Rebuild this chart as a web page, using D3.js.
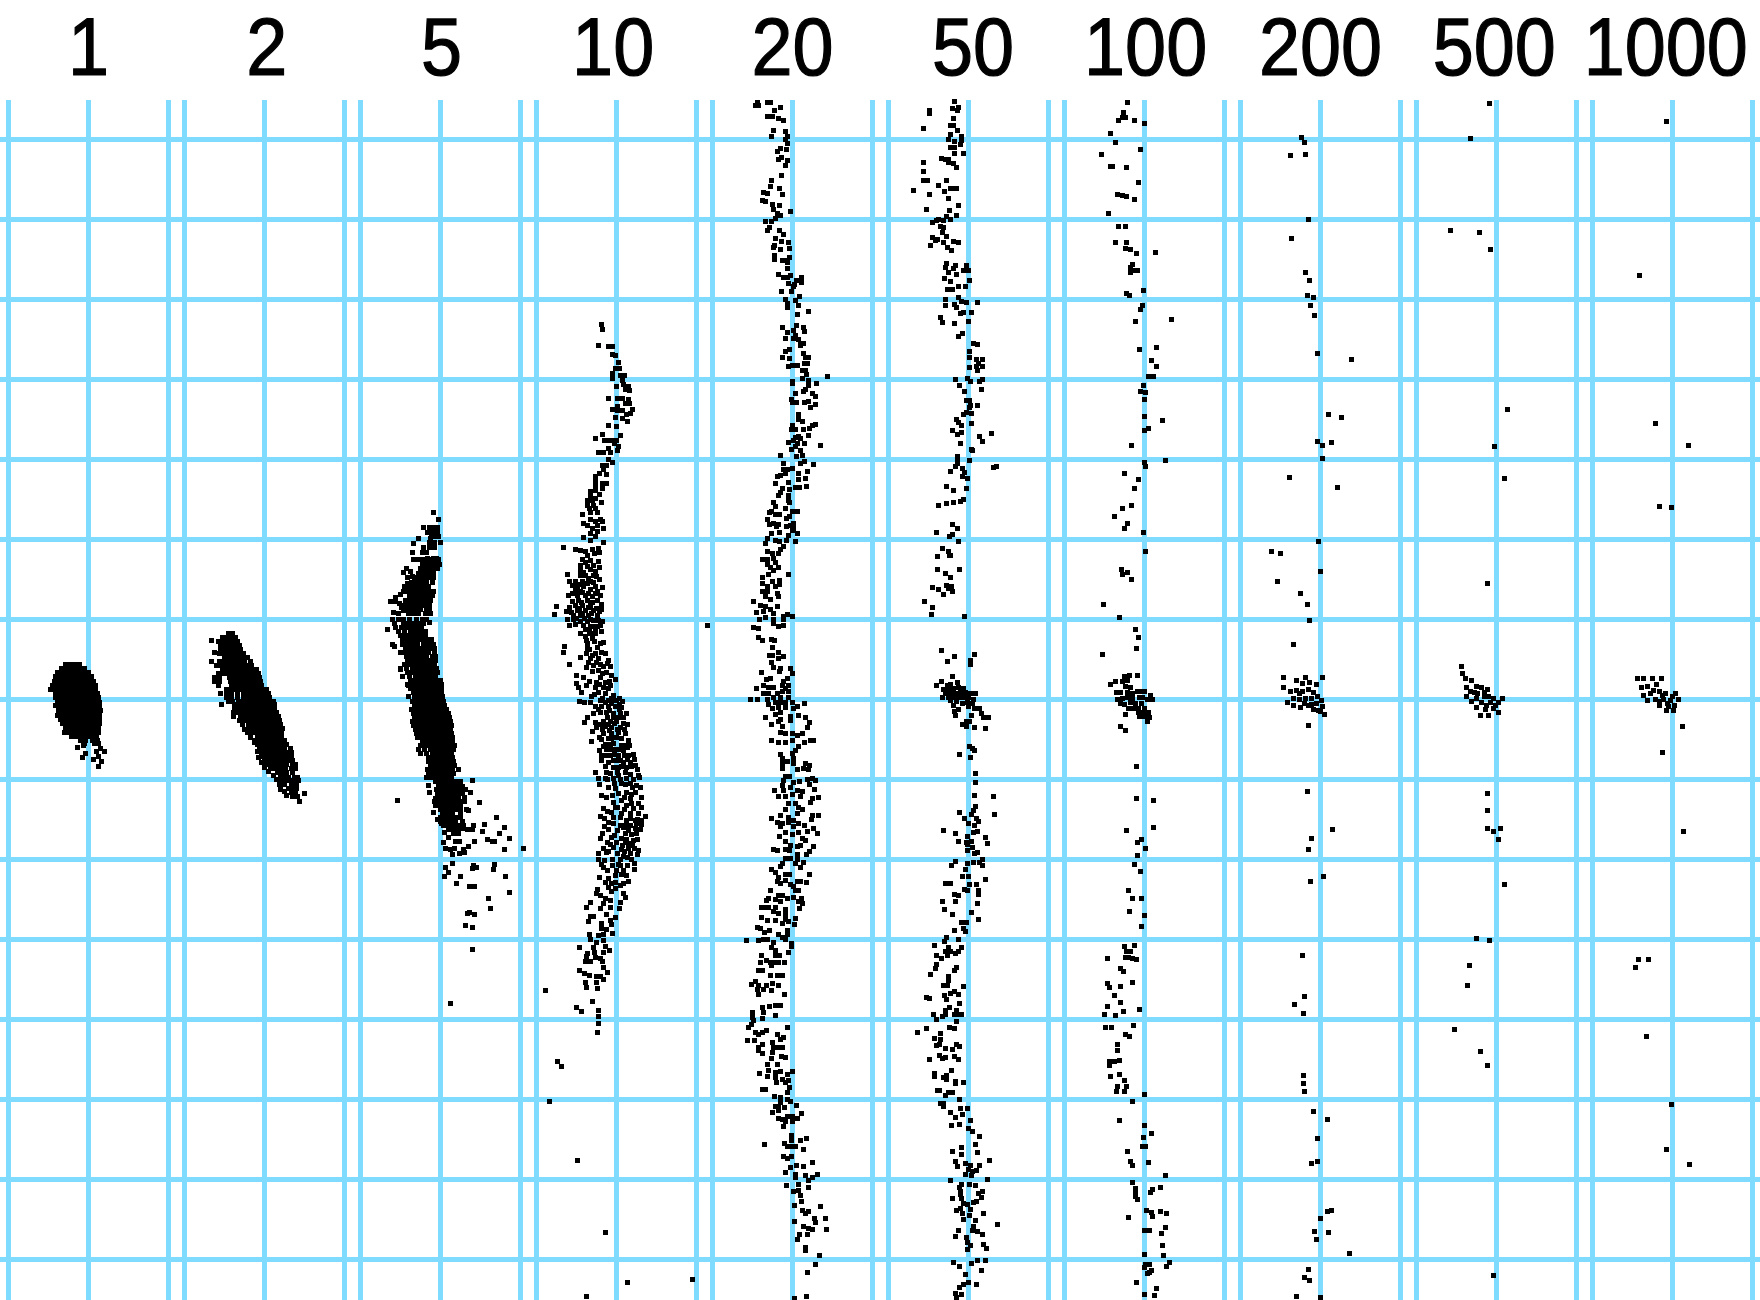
<!DOCTYPE html>
<html><head><meta charset="utf-8">
<script src="https://cdn.jsdelivr.net/npm/d3@7"></script>
<style>html,body{margin:0;padding:0;background:#fff}svg{display:block}</style>
</head><body><div id="chart"></div>
<script>
const panelLabels=["1","2","5","10","20","50","100","200","500","1000"];
const labelNudge=[0,2,1,-3,0,4,1,0,-2,-6];
const rowTicks=[-560,-480,-400,-320,-240,-160,-80,0,80,160,240,320,400,480,560];
const columnTicks=[-80,0,80];
// each list: x, y, x, y ... (one grid cell = 80 units; y grows downward from the middle row)
const dots1=[-23,-35,-19,-35,-14,-35,-9,-35,-27,-31,-23,-31,-18,-31,-13,-31,-9,-31,-4,-31,-31,-27,-27,-27,-22,-27,-18,-27,-13,-27,-9,-27,-4,-27,0,-27,-33,-23,-28,-23,-24,-23,-19,-23,-15,-23,-10,-23,-6,-23,-1,-23,3,-23,-34,-18,-30,-18,-25,-18,-21,-18,-16,-18,-12,-18,-7,-18,-3,-18,2,-18,5,-18,-36,-14,-32,-14,-27,-14,-23,-14,-18,-14,-14,-14,-9,-14,-5,-14,0,-14,4,-14,7,-14,-38,-10,-33,-10,-29,-10,-24,-10,-20,-10,-15,-10,-11,-10,-6,-10,-2,-10,3,-10,7,-10,-33,-6,-29,-6,-25,-6,-20,-6,-16,-6,-11,-6,-7,-6,-2,-6,2,-6,6,-6,9,-6,-33,-2,-28,-2,-24,-2,-19,-2,-15,-2,-10,-2,-6,-2,-1,-2,3,-2,7,-2,10,-2,-31,3,-27,3,-22,3,-18,3,-13,3,-9,3,-4,3,0,3,5,3,9,3,11,3,-33,6,-28,7,-24,7,-19,7,-15,7,-10,7,-6,7,-1,7,3,7,8,7,11,7,-30,11,-26,11,-21,11,-17,11,-12,11,-8,11,-3,11,1,11,6,11,10,11,12,11,-31,16,-26,16,-21,16,-17,16,-12,16,-8,16,-3,16,2,16,6,16,10,16,11,16,-28,20,-23,20,-19,20,-14,20,-10,20,-5,20,-1,20,4,20,8,20,11,20,-26,24,-22,24,-17,24,-13,24,-8,24,-4,24,1,24,5,24,9,24,11,24,-23,28,-19,28,-14,28,-10,28,-5,28,-1,28,4,28,8,28,10,28,-24,33,-19,33,-15,33,-10,33,-5,33,0,33,5,33,9,33,10,33,-17,37,-12,37,-7,37,-2,37,3,37,8,37,-8,41,-3,41,4,41,9,41,-5,46,-4,44,6,44,10,44,12,49,-11,48,-3,54,-6,58,5,60,10,57,10,67,16,52,13,62,8,52];
const dots2=[-36,-66,-32,-66,-53,-59,-42,-62,-38,-62,-33,-62,-29,-62,-46,-58,-41,-58,-37,-58,-32,-58,-27,-58,-44,-54,-40,-54,-35,-54,-30,-54,-25,-54,-44,-50,-39,-50,-34,-50,-29,-50,-24,-50,-50,-47,-45,-46,-40,-46,-35,-46,-30,-46,-25,-46,-21,-46,-40,-42,-36,-42,-31,-42,-26,-42,-21,-42,-17,-42,-53,-38,-45,-38,-40,-38,-35,-38,-30,-38,-25,-38,-20,-38,-14,-38,-48,-34,-43,-34,-38,-34,-33,-34,-28,-34,-23,-34,-18,-34,-13,-34,-42,-30,-37,-30,-32,-30,-27,-30,-22,-30,-17,-30,-12,-30,-8,-30,-46,-26,-41,-26,-36,-26,-31,-26,-26,-26,-21,-26,-16,-26,-11,-26,-6,-26,-50,-22,-45,-22,-35,-22,-30,-22,-25,-22,-20,-22,-15,-22,-10,-22,-5,-22,-50,-18,-45,-18,-34,-18,-29,-18,-24,-18,-19,-18,-14,-18,-9,-18,-4,-18,-46,-14,-33,-14,-28,-14,-23,-14,-18,-14,-13,-14,-8,-14,-3,-14,-38,-10,-33,-10,-28,-10,-23,-10,-18,-10,-13,-10,-8,-10,-3,-10,2,-10,-44,-6,-38,-6,-33,-6,-27,-6,-21,-6,-16,-6,-11,-6,-6,-6,-1,-6,4,-6,-38,-2,-33,-2,-27,-2,-21,-2,-16,-2,-11,-2,-6,-2,-1,-2,4,-2,5,-2,-36,2,-32,2,-26,2,-21,2,-16,2,-11,2,-6,2,-1,2,4,2,9,2,-43,5,-30,5,-25,5,-20,5,-15,5,-10,5,-5,5,0,5,5,5,10,5,-30,9,-25,9,-20,9,-15,9,-10,9,-5,9,0,9,5,9,10,9,-31,13,-28,13,-23,13,-18,13,-13,13,-8,13,-3,13,2,13,7,13,12,13,-31,17,-24,17,-19,17,-14,17,-9,17,-4,17,1,17,6,17,11,17,14,17,-25,21,-20,21,-17,21,-12,21,-7,21,-2,21,3,21,8,21,13,21,15,21,-22,25,-12,25,-7,25,-2,25,3,25,8,25,13,25,16,25,-15,29,-10,29,-5,29,0,29,5,29,10,29,15,29,18,29,-17,33,-12,33,-7,33,-2,33,3,33,8,33,13,33,17,33,-7,37,-2,37,3,37,8,37,13,37,17,37,-9,41,-4,41,1,41,6,41,11,41,16,41,20,41,-7,45,-2,45,3,45,8,45,13,45,18,45,22,45,-5,49,0,49,5,49,10,49,15,49,20,49,26,49,-3,53,2,53,7,53,12,53,17,53,22,53,27,53,-3,57,2,57,7,57,12,57,17,57,22,57,27,57,0,61,5,61,10,61,15,61,20,61,25,61,28,61,2,65,7,65,12,65,17,65,22,65,28,65,31,65,6,69,11,69,16,69,21,69,27,69,31,69,13,73,18,73,22,73,28,73,16,78,20,78,24,78,30,78,33,78,17,81,22,81,27,81,32,81,34,81,20,85,27,85,32,85,24,89,29,89,32,89,27,93,31,93,40,94,28,97,33,97,35,102,-16,26,-20,30,-14,38,-10,43,-7,52,-6,58,-3,63,0,68,4,72,9,76,12,80,15,85,16,90,20,92,22,96];
const dots3=[-7,-187,-2,-180,-17,-172,-11,-172,-6,-172,-3,-172,-13,-167,-8,-167,-3,-167,-9,-163,-5,-163,-2,-163,-22,-161,-10,-161,-27,-156,-11,-157,-6,-157,0,-157,-17,-152,-11,-152,-6,-152,-28,-147,-18,-147,-14,-147,-13,-141,-7,-141,-4,-141,-27,-140,-22,-140,-17,-140,-12,-140,-7,-140,-2,-140,-18,-135,-13,-135,-8,-135,-3,-135,-1,-135,-34,-131,-20,-131,-15,-131,-10,-131,-5,-131,-3,-131,-37,-127,-22,-126,-17,-126,-12,-126,-7,-126,-33,-122,-26,-122,-21,-122,-16,-122,-11,-122,-7,-122,-29,-117,-24,-117,-19,-117,-14,-117,-8,-117,-36,-113,-27,-113,-22,-113,-17,-113,-12,-113,-37,-108,-32,-108,-27,-108,-22,-108,-17,-108,-12,-108,-7,-108,-31,-104,-26,-104,-21,-104,-16,-104,-11,-104,-8,-104,-45,-102,-35,-99,-30,-99,-25,-99,-20,-99,-15,-99,-10,-99,-50,-98,-45,-98,-36,-94,-31,-94,-26,-94,-21,-94,-16,-94,-11,-94,-35,-90,-30,-90,-25,-90,-20,-90,-14,-90,-11,-90,-32,-86,-27,-86,-22,-86,-15,-86,-10,-86,-47,-87,-42,-86,-37,-89,-48,-80,-42,-80,-37,-80,-31,-80,-24,-80,-18,-80,-14,-80,-46,-76,-37,-76,-32,-76,-27,-76,-22,-76,-17,-76,-11,-77,-45,-72,-39,-72,-34,-72,-29,-72,-24,-72,-19,-72,-53,-70,-42,-68,-36,-68,-30,-68,-25,-68,-20,-68,-15,-68,-40,-64,-35,-64,-30,-64,-25,-64,-20,-64,-15,-64,-38,-60,-33,-60,-28,-60,-23,-60,-18,-60,-13,-60,-9,-60,-38,-55,-33,-55,-28,-55,-23,-55,-17,-55,-12,-55,-7,-55,-48,-55,-46,-53,-35,-51,-30,-51,-25,-51,-20,-51,-15,-51,-10,-51,-6,-51,-37,-47,-32,-47,-27,-47,-22,-47,-17,-47,-12,-47,-6,-47,-34,-43,-29,-43,-24,-43,-19,-43,-14,-43,-8,-43,-5,-43,-40,-47,-33,-39,-28,-39,-23,-39,-18,-39,-13,-39,-8,-39,-5,-39,-36,-35,-31,-35,-26,-35,-21,-35,-16,-35,-11,-35,-6,-35,-40,-31,-34,-31,-28,-31,-23,-31,-18,-31,-13,-31,-8,-31,-4,-31,-33,-27,-28,-27,-23,-27,-18,-27,-13,-27,-8,-27,-3,-27,-40,-30,-31,-23,-25,-23,-20,-23,-15,-23,-10,-23,-5,-23,-30,-19,-25,-19,-20,-19,-15,-19,-10,-19,-5,-19,0,-19,-38,-23,-33,-15,-27,-15,-22,-15,-17,-15,-12,-15,-7,-15,-2,-15,1,-15,-30,-11,-25,-11,-20,-11,-15,-11,-10,-11,-5,-11,0,-11,1,-11,-32,-14,-27,-7,-22,-7,-17,-7,-12,-7,-7,-7,-2,-7,1,-7,-32,-3,-26,-3,-21,-3,-16,-3,-11,-3,-6,-3,-1,-3,2,-3,-28,2,-23,2,-18,2,-13,2,-8,2,-3,2,2,2,3,2,-26,6,-21,6,-16,6,-11,6,-6,6,-1,6,4,6,-29,10,-24,10,-19,10,-14,10,-9,10,-4,10,1,10,6,10,-27,14,-22,14,-17,14,-12,14,-7,14,-2,14,3,14,8,14,-26,18,-21,18,-16,18,-11,18,-6,18,-1,18,4,18,9,18,-28,22,-24,22,-19,22,-14,22,-9,22,-4,22,1,22,6,22,10,22,-27,26,-22,26,-17,26,-12,26,-7,26,-2,26,3,26,8,26,11,26,-25,30,-20,30,-15,30,-10,30,-5,30,0,30,5,30,10,30,-24,34,-19,34,-14,34,-9,34,-4,34,1,34,6,34,11,34,-23,38,-18,38,-13,38,-8,38,-3,38,2,38,7,38,12,38,-18,42,-13,42,-8,42,-3,42,2,42,7,42,12,42,-20,46,-15,46,-10,46,-5,46,0,46,5,46,10,46,14,46,-22,50,-16,50,-10,50,-5,50,0,50,5,50,10,50,13,50,-20,54,-14,54,-8,54,-3,54,2,54,7,54,11,54,-12,58,-7,58,-2,58,3,58,8,58,12,58,-12,62,-7,62,-2,62,3,62,8,62,13,62,-10,66,-5,66,0,66,5,66,10,66,14,66,-13,70,-8,70,-3,70,2,70,7,70,12,70,18,70,-12,74,-7,74,-2,74,3,74,8,74,13,74,-14,78,-9,78,-4,78,1,78,6,78,11,78,0,82,-5,82,5,82,10,82,15,82,20,82,32,81,-12,86,-2,86,3,86,8,86,13,86,18,86,22,87,-4,90,1,90,6,90,11,90,16,90,21,90,25,90,-11,93,-3,94,2,94,7,94,12,94,17,94,22,94,30,93,-2,98,3,98,8,98,13,98,18,98,24,98,-6,102,-1,102,4,102,9,102,14,102,19,102,24,102,-5,99,-5,106,0,106,5,106,10,106,15,106,20,106,39,103,0,110,5,110,10,110,15,110,20,110,26,110,2,114,7,114,12,114,20,114,-7,113,0,118,5,118,10,118,15,118,20,118,28,111,0,122,5,122,10,122,15,122,22,122,-3,120,1,124,56,118,3,126,8,126,13,126,18,126,23,126,33,126,44,125,64,128,8,130,13,130,18,130,23,129,27,130,32,130,42,132,59,134,4,133,18,134,13,134,69,139,47,140,54,142,52,142,8,138,3,143,15,142,19,142,34,142,28,147,83,149,64,150,5,149,10,150,14,149,23,150,24,153,19,154,12,155,12,164,5,168,8,173,4,177,33,166,32,169,36,168,54,165,53,170,65,177,20,177,16,184,29,187,34,187,69,193,48,199,50,209,27,214,29,213,34,215,25,226,32,228,32,250,105,291,10,304,-43,101,-30,-128,-28,-123,-33,-116,-35,-109,-32,-113,-40,-105,-41,-96,-39,-92];
const dots4=[-15,-375,-14,-370,-18,-354,-8,-353,-4,-353,-4,-345,-1,-344,2,-337,-1,-331,3,-331,-4,-326,-4,-321,4,-324,8,-324,6,-319,0,-313,7,-315,12,-313,9,-310,13,-309,-8,-301,1,-301,6,-301,12,-300,9,-296,13,-296,1,-293,-4,-290,6,-289,1,-289,16,-290,14,-286,10,-285,6,-281,-1,-282,11,-278,-8,-274,0,-273,-21,-261,-14,-265,4,-264,-12,-259,-8,-259,-4,-259,0,-259,-2,-256,-8,-251,2,-253,1,-249,-18,-247,-13,-247,-6,-247,-8,-240,-4,-237,-14,-234,-10,-234,-13,-230,-17,-226,-10,-225,-21,-223,-21,-218,-10,-216,-14,-216,-21,-213,-14,-211,-26,-208,-21,-209,-26,-204,-17,-205,-21,-201,-29,-199,-24,-199,-15,-197,-29,-194,-23,-194,-27,-191,-21,-191,-34,-185,-26,-187,-19,-187,-26,-180,-16,-180,-21,-178,-33,-176,-29,-174,-19,-174,-14,-178,-24,-171,-13,-171,-19,-168,-26,-166,-33,-162,-21,-163,-26,-159,-13,-157,-53,-152,-41,-150,-36,-149,-31,-148,-24,-150,-18,-151,-29,-144,-22,-146,-17,-147,-34,-140,-18,-138,-36,-134,-29,-133,-23,-134,-17,-132,-36,-129,-26,-130,-49,-125,-36,-124,-31,-124,-23,-124,-17,-120,-47,-118,-41,-118,-34,-118,-26,-118,-39,-113,-33,-113,-21,-113,-14,-112,-41,-109,-26,-110,-36,-108,-19,-108,-48,-104,-39,-104,-31,-104,-24,-103,-38,-99,-29,-99,-19,-99,-41,-94,-34,-94,-26,-94,-15,-90,-60,-93,-47,-92,-50,-88,-62,-85,-39,-89,-31,-89,-23,-89,-43,-84,-36,-84,-28,-84,-19,-84,-49,-80,-43,-80,-36,-78,-29,-78,-23,-79,-14,-78,-47,-74,-26,-73,-19,-73,-31,-70,-15,-68,-26,-66,-21,-66,-31,-63,-24,-61,-16,-56,-29,-56,-52,-53,-13,-57,-29,-51,-19,-52,-53,-47,-47,-35,-36,-42,-30,-46,-21,-46,-11,-46,-26,-41,-18,-41,-8,-39,-30,-32,-23,-34,-13,-33,-6,-33,-18,-29,-10,-27,-40,-24,-33,-22,-16,-22,-1,-20,-40,-16,-20,-17,-11,-17,-7,-18,-30,-14,-38,-12,-21,-12,-13,-12,-8,-11,-35,-7,-18,-7,-11,-6,-25,-3,-3,-4,-37,2,-32,3,-26,3,-16,1,-8,1,0,1,6,2,-21,7,-15,7,-8,7,-1,7,5,8,-23,14,-16,13,-10,13,-3,14,4,14,10,14,-29,18,7,18,-32,23,-21,23,-13,22,-6,22,0,22,11,25,-20,28,-11,27,-5,28,4,28,-24,32,-13,34,-5,34,2,33,9,34,-17,38,-8,39,0,38,12,41,-25,42,-11,45,-3,44,5,46,13,46,-17,51,-10,50,-1,50,7,51,-15,56,-6,56,2,56,12,56,-15,61,-8,63,0,61,7,63,14,63,-11,67,-3,68,5,67,19,66,-21,73,-10,73,9,73,21,70,22,76,-18,79,-11,79,2,76,-3,79,10,79,-17,85,-8,88,5,84,14,84,24,88,-1,89,20,86,-15,96,-10,98,2,94,10,93,19,93,25,98,-3,103,5,101,14,99,22,104,-13,109,1,108,10,106,25,108,17,109,-5,113,5,114,14,114,22,114,-16,117,-12,119,-3,118,29,117,10,121,19,121,25,121,-3,124,4,126,14,126,25,125,-8,130,7,128,19,129,-14,134,-16,139,9,134,15,135,20,134,-5,138,5,139,21,140,-6,145,0,143,9,143,16,146,-13,149,-3,148,5,150,12,149,22,151,-18,154,-10,153,7,157,14,154,21,155,-18,160,-12,161,15,160,-15,165,-13,168,-4,166,4,166,11,166,18,164,0,171,7,171,18,170,-1,176,5,175,-17,178,-8,179,12,182,-11,183,7,184,-5,184,-8,188,-1,189,-19,190,-20,194,-16,196,-5,192,7,194,9,198,-11,199,-6,201,4,203,-26,203,-30,208,-13,204,-6,208,-16,209,3,209,-26,217,-23,217,-28,222,-10,215,-1,218,-6,221,-15,224,-5,225,-15,229,-10,230,-27,235,-13,235,-4,234,-18,236,-26,240,-13,241,-20,243,-37,248,-23,248,-11,247,-7,251,-22,253,-29,254,-30,257,-13,253,-21,258,-16,259,-31,262,-26,262,-14,262,-13,268,-37,271,-32,274,-27,276,-9,273,-20,277,-16,277,-13,280,-31,283,-30,288,-20,283,-19,289,-71,291,-24,302,-40,308,-35,312,-18,311,-18,317,-18,324,-19,333,91,-74,-59,362,-55,367,-67,402,-39,461,-11,533,11,583,-30,597,76,580,-31,-137,-26,-139,-21,-128,-33,-127,-28,-121,-20,-123,-44,-114,-36,-115,-29,-116,-23,-117,-44,-106,-34,-107,-28,-106,-21,-106,-16,-104,-44,-98,-35,-97,-24,-97,-15,-95,-37,-91,-28,-92,-20,-91,-45,-87,-34,-86,-25,-86,-17,-88,-40,-81,-32,-81,-26,-80,-18,-79,-41,-75,-33,-74,-23,-73,-16,-74,-27,-68,-21,-71,-36,-66,-30,-59,-22,-58,-27,-50,-24,-44,-15,-47,-20,-37,-28,-37,-16,-35,-9,-36,-24,-28,-14,-26,-5,-24,-27,-18,-17,-15,-6,-14,-22,-5,-14,-1,-5,-1,3,-1,-11,3,-5,4,3,5,-18,10,-7,11,3,10,-9,18,-3,18,2,18,-16,25,-8,25,-2,24,7,24,-14,30,-7,31,1,30,8,30,-15,40,-5,39,5,39,-13,47,-6,45,9,46,-6,50,3,50,11,48,-11,56,-2,55,8,56,17,55,-3,61,4,61,11,60,18,60,2,68,10,68,15,67,-6,74,1,73,14,75,-9,80,4,80,17,80,23,78,9,85,-2,84,16,88,-4,96,8,98,15,95,-1,108,8,110,15,104,-9,112,4,118,14,119,21,120,-8,123,9,126,20,124,-12,127,1,131,12,131,24,130,-2,136,10,140,17,141,-9,143,6,146,12,144,-8,152,1,154,8,152,18,149,-4,160,4,160,11,158,-9,171,2,165,-1,183,4,186,10,176];
const dots5=[-35,-597,-34,-594,-37,-594,-25,-597,-22,-597,-18,-589,-12,-592,-25,-583,-20,-583,-14,-581,-9,-579,-19,-569,-7,-568,-21,-563,-5,-563,-7,-560,-5,-556,-15,-548,-12,-551,-6,-550,-14,-540,-11,-542,-5,-539,-7,-534,-11,-524,-21,-519,-22,-513,-13,-511,-29,-507,-25,-506,-10,-505,-30,-499,-27,-498,-20,-495,-13,-494,-19,-490,-2,-488,-15,-486,-12,-484,-17,-481,-27,-478,-21,-478,-23,-472,-25,-469,-13,-469,-9,-465,-17,-461,-11,-458,-4,-457,-18,-454,-3,-451,-19,-452,-12,-450,-18,-444,-18,-440,-10,-439,-6,-439,-3,-442,-5,-437,-5,-431,-14,-425,-9,-422,-5,-422,-2,-424,4,-419,9,-422,9,-417,-4,-416,2,-415,1,-413,-11,-408,-1,-408,7,-403,-7,-400,3,-399,-5,-396,6,-394,-5,-392,16,-388,5,-385,-10,-372,4,-374,11,-372,12,-368,1,-369,-5,-367,3,-364,-7,-361,1,-361,6,-360,8,-356,11,-356,8,-354,-3,-350,-7,-348,11,-346,13,-342,16,-342,-10,-342,-3,-341,12,-336,15,-336,-4,-333,0,-334,5,-334,10,-329,13,-329,14,-325,10,-321,35,-323,0,-318,0,-316,16,-319,24,-316,16,-314,13,-310,11,-308,3,-306,20,-306,23,-303,-1,-300,16,-298,12,-297,0,-297,4,-297,23,-295,18,-292,6,-285,6,-280,10,-278,0,-274,23,-275,20,-274,17,-271,-1,-270,3,-270,11,-270,16,-264,6,-263,3,-262,8,-261,1,-259,-4,-257,12,-256,5,-256,28,-254,3,-253,-1,-250,8,-249,10,-244,-12,-244,4,-243,12,-238,8,-236,-9,-236,21,-235,-9,-230,-5,-230,0,-231,6,-226,15,-228,-7,-226,-12,-224,-15,-223,13,-221,6,-220,-17,-216,-4,-217,-10,-211,3,-212,7,-212,14,-213,-12,-207,-3,-210,-14,-204,-4,-204,-4,-199,-19,-197,-3,-197,-17,-193,-7,-191,-21,-188,0,-188,5,-188,-23,-187,-17,-185,-13,-185,-3,-183,-6,-181,-25,-180,1,-176,-19,-176,-14,-175,-23,-175,-16,-173,-2,-174,-6,-173,1,-171,-21,-166,-13,-167,0,-169,5,-166,-4,-164,-25,-161,-17,-159,-13,-158,-6,-159,-27,-156,3,-158,-9,-153,-12,-150,-14,-146,-25,-148,-20,-146,-30,-140,-25,-140,-19,-141,-25,-135,-17,-137,-14,-132,-22,-132,-19,-129,-24,-125,-4,-125,-30,-122,-13,-119,-20,-118,-30,-116,-25,-113,-17,-113,-13,-115,-30,-108,-25,-108,-15,-106,-27,-103,-14,-103,-22,-100,-39,-98,-32,-94,-27,-93,-15,-93,-22,-90,-36,-87,-29,-88,-19,-86,-5,-85,-9,-83,0,-83,-33,-80,-27,-82,-9,-80,-19,-80,-19,-76,-14,-73,-9,-74,-39,-72,-34,-71,-34,-62,-30,-59,-21,-60,-18,-59,-20,-52,-14,-47,-23,-44,-20,-44,-9,-43,-14,-41,-21,-37,-19,-32,-12,-31,-2,-31,-13,-28,-31,-27,0,-26,-22,-21,-26,-20,-5,-21,-9,-18,-29,-14,-24,-12,-19,-12,-10,-14,-4,-14,-36,-11,-7,-11,-29,-6,-24,-6,-15,-6,-10,-8,-4,-8,-19,-2,-12,-2,-4,-2,-42,0,-35,0,-25,0,-24,5,-17,3,-12,3,-7,3,0,3,12,4,-20,9,-14,8,-7,8,1,9,5,7,-27,18,-17,15,-12,13,-2,17,6,16,13,18,-12,20,-14,22,-2,21,-21,25,17,23,15,28,-10,27,-12,33,-7,34,0,34,5,36,10,34,-21,41,-14,43,-7,43,0,41,12,43,18,41,21,41,6,47,3,51,0,54,-12,55,-10,59,-5,62,1,59,-10,64,1,64,-10,69,5,70,11,69,13,64,17,66,16,70,-7,77,-3,77,15,80,20,79,23,81,-9,81,1,83,7,82,17,85,-10,86,-2,88,-18,91,-9,91,5,91,10,92,22,90,-14,97,-7,97,0,95,8,97,20,99,26,98,18,103,-4,104,3,104,-7,110,6,108,10,110,5,114,-12,116,26,116,20,116,-21,119,-4,118,19,120,1,121,-15,123,-10,124,-4,123,6,124,12,126,-12,127,1,127,21,129,-7,133,0,135,6,133,15,132,25,134,-13,137,10,139,-7,142,13,141,-2,146,5,147,21,147,-19,150,-15,151,-7,150,8,146,-3,151,17,152,14,155,5,155,-7,159,-2,159,5,160,11,163,-10,164,3,164,-12,167,8,168,-21,170,-17,173,-7,175,-3,175,17,175,-14,178,-15,182,-7,181,-12,184,5,182,8,182,14,183,-2,185,1,187,6,191,3,191,-22,191,-14,196,-10,196,1,198,-24,199,-5,199,9,199,-17,200,-26,201,-12,202,6,202,10,204,-29,208,-24,208,-17,208,-7,210,7,209,-31,208,-19,212,-14,214,-7,215,-31,218,-25,221,-17,221,-7,220,3,219,-4,222,-10,224,2,225,-35,228,-32,229,-23,231,-28,233,-14,235,-5,231,-5,235,-10,238,-7,240,-46,241,-34,241,-29,240,-25,240,-19,243,-1,244,-21,248,-17,251,-1,247,-4,253,-31,256,-17,256,-13,256,-32,263,-26,261,-22,263,-17,263,-14,263,-8,263,-21,266,-34,271,-30,271,-22,276,-15,276,-10,276,-37,282,-41,285,-34,286,-26,286,-20,284,-14,286,-35,290,-29,290,-21,291,-34,295,-8,295,-30,308,-23,307,-17,306,-12,306,-40,313,-29,313,-17,316,-40,318,-30,319,-39,321,-41,325,-44,328,-5,328,-26,331,-30,333,-37,333,-34,335,-15,335,-9,338,-12,340,-45,341,-38,341,-20,343,-30,345,-34,348,-15,348,-10,348,-19,348,-34,351,-30,354,-20,353,-11,357,-7,358,-21,359,-25,365,-15,365,-24,371,-12,372,-17,373,0,372,-33,374,-5,375,-25,377,-17,378,-10,380,-4,381,-16,383,-7,383,-3,388,-30,390,-27,390,-5,393,-18,397,-12,398,-5,400,-12,403,-2,402,-17,407,-14,407,-8,408,4,406,-20,413,-14,411,9,414,-5,417,0,417,-14,419,-10,420,5,419,-7,422,0,422,-9,427,-1,436,-1,441,14,439,8,441,-28,445,-8,444,-5,447,3,447,11,450,-2,447,-9,457,-5,459,-1,457,20,463,4,466,11,467,-2,468,-7,473,3,475,13,476,25,475,3,478,20,478,16,481,-6,486,6,485,16,488,1,492,6,491,8,496,2,506,9,502,28,507,10,511,16,512,13,514,22,519,33,519,2,522,23,523,11,527,16,529,20,530,34,530,15,535,7,535,5,540,13,548,13,551,27,556,23,565,15,573,2,599,14,597];
const dots6=[-14,-598,-39,-589,-39,-586,-16,-591,-10,-592,-11,-589,-15,-581,-18,-574,-15,-574,-45,-571,-11,-569,-18,-565,-7,-563,-20,-560,-7,-559,-14,-558,-8,-555,-18,-552,-14,-552,-14,-546,-5,-546,-27,-541,-23,-540,-20,-540,-20,-537,-45,-537,-15,-536,-12,-532,-45,-528,-45,-519,-41,-519,-22,-519,-30,-514,-55,-509,-24,-508,-18,-511,-15,-511,-12,-511,-39,-505,-20,-501,-10,-494,-42,-490,-19,-489,-12,-484,-22,-483,-30,-480,-36,-477,-32,-479,-25,-479,-18,-480,-28,-473,-25,-472,-26,-467,-22,-463,-36,-462,-31,-460,-33,-459,-25,-457,-15,-458,-10,-457,-38,-454,-21,-452,-17,-449,-22,-436,-13,-434,-2,-434,-23,-432,-15,-431,-5,-429,0,-429,-20,-427,-12,-425,-24,-421,1,-419,-18,-418,-10,-413,-3,-413,-21,-410,-16,-410,-10,-402,-23,-400,-7,-398,-2,-397,9,-397,-23,-394,-14,-395,-12,-392,3,-387,-5,-387,-8,-386,-28,-382,0,-378,-26,-377,-14,-376,-6,-366,-10,-363,5,-356,9,-355,1,-348,1,-342,8,-340,14,-340,10,-336,14,-333,1,-332,8,-333,9,-329,-13,-320,-1,-321,2,-318,11,-318,14,-320,-9,-314,-4,-308,13,-310,-2,-299,1,-299,2,-294,9,-294,1,-292,-5,-285,-2,-287,3,-286,-12,-280,-10,-277,-7,-274,3,-276,-16,-269,-7,-267,-11,-265,23,-266,11,-263,14,-258,-8,-256,3,-250,4,-249,-11,-243,-11,-239,1,-239,-11,-236,-13,-233,25,-232,28,-233,-6,-231,-18,-228,-4,-227,-6,-223,-1,-221,-22,-213,-15,-209,-2,-211,-5,-200,-8,-198,-15,-197,-22,-196,-30,-194,-16,-175,-11,-171,-32,-167,-16,-165,-19,-163,-10,-158,-26,-151,-20,-148,-31,-143,-19,-144,-18,-144,-31,-130,-23,-126,-9,-130,-18,-122,-36,-112,-30,-110,-22,-114,-17,-113,-20,-111,-16,-108,-25,-105,-44,-98,-36,-92,-37,-85,-4,-83,-27,-49,-14,-43,6,-45,-21,-38,2,-39,2,-35,-16,-23,-27,-18,-32,-14,-18,-15,-11,-17,-21,-14,-25,-10,-20,-10,-15,-11,-10,-12,-5,-11,-23,-6,-18,-6,-13,-6,-8,-7,-3,-7,2,-6,7,-6,-26,-2,-20,-2,-15,-2,-10,-2,-5,-2,0,-2,5,0,-18,1,-12,2,-6,4,-1,3,4,4,11,9,-15,6,0,7,6,9,-14,12,-10,10,-13,16,13,14,3,16,15,18,20,18,1,22,-2,22,-6,25,-2,27,6,28,17,29,1,47,4,49,6,51,-9,55,2,58,7,74,7,83,6,96,25,97,7,107,-9,113,5,111,3,115,26,115,-4,119,8,119,10,122,0,124,6,126,-25,131,-13,134,5,133,9,132,-1,137,17,138,-10,142,-2,143,3,142,19,144,-1,145,4,148,-1,151,9,153,6,154,14,160,-13,162,5,163,11,163,-1,164,14,166,-17,166,-3,170,-6,177,0,177,17,180,-23,184,-18,184,1,185,8,185,-4,190,-1,191,10,191,10,195,-14,195,-10,196,-13,202,-26,202,9,204,-24,210,-16,215,3,213,-7,223,-2,223,10,220,-5,229,-14,231,-3,232,-22,238,-10,240,-24,242,-34,246,-7,248,-20,248,-23,252,-18,252,-10,252,-13,254,-32,256,-21,256,-27,259,-32,265,-33,269,-12,268,-14,271,-38,275,-20,277,-20,281,-25,286,-21,286,-5,287,-24,296,-18,294,-14,292,-10,295,-42,298,-39,299,-22,300,-9,304,-19,308,-23,311,-12,311,-35,315,-23,315,-14,315,-11,315,-7,315,-26,317,-32,320,-12,322,-42,329,-19,328,-14,329,-51,333,-28,334,-34,339,-28,340,-32,346,-29,345,-12,345,-9,347,-23,349,-16,350,-29,356,-26,359,-23,358,-14,357,-10,360,-39,360,-17,371,-34,374,-34,377,-25,378,-22,376,-22,380,-13,382,-5,383,-13,384,-31,391,-29,391,-20,393,-16,393,-23,396,-9,400,-28,404,-25,407,-25,404,-8,409,-1,409,-18,413,-6,415,-13,418,2,421,-17,426,-9,425,0,429,4,432,11,437,7,445,-7,448,-16,452,9,453,-7,455,21,461,-13,462,-11,467,-3,464,2,466,11,466,0,470,8,471,4,472,-3,475,3,476,-18,481,19,480,-7,485,1,485,7,486,-9,488,-8,492,14,492,10,494,-8,495,-16,499,-7,499,13,498,8,502,5,503,-5,504,-1,505,-8,509,2,510,-12,511,-6,514,1,516,15,514,-5,520,7,521,29,525,5,527,-10,531,4,531,9,532,14,535,-13,537,-2,538,-1,543,2,546,15,545,18,549,-1,550,17,561,9,561,-15,563,3,564,-9,567,13,571,-3,575,0,583,8,585,-5,585,-9,588,-13,594,-7,595,-12,598];
const dots7=[-17,-597,-21,-587,-22,-582,-19,-582,-26,-579,-10,-579,0,-576,-34,-566,-29,-557,-4,-550,-43,-545,-34,-533,-32,-533,-18,-532,-6,-517,-27,-505,-22,-504,-18,-503,-10,-500,-36,-486,-26,-473,-19,-473,-29,-457,-18,-457,-19,-451,-14,-450,11,-447,-8,-446,-12,-435,-14,-432,-10,-429,-7,-429,-14,-427,-1,-409,-18,-406,-15,-404,-2,-394,-4,-390,-9,-378,27,-380,12,-352,-5,-350,7,-339,12,-333,4,-323,9,-323,-1,-314,-4,-308,1,-307,0,-300,0,-283,18,-279,4,-271,0,-269,-13,-254,0,-237,21,-239,1,-233,-20,-226,-6,-220,-10,-211,-13,-194,-22,-191,-30,-183,-17,-176,-20,-171,-1,-167,1,-148,-23,-130,-17,-127,-22,-125,-13,-120,-41,-95,-25,-82,-9,-70,-6,-62,-8,-51,-42,-45,-15,-24,-7,-24,-20,-23,-29,-18,-34,-15,-22,-18,-17,-19,-19,-13,-14,-12,-28,-7,-24,-7,-17,-7,-12,-6,-7,-8,-4,-8,0,-8,-27,0,-22,-1,-17,-2,-12,-1,-5,-2,-2,-2,3,0,6,-4,8,0,-24,4,-20,5,-14,3,-9,4,-3,4,-16,9,-11,9,-6,9,0,9,-19,15,-6,13,-1,13,4,13,-5,17,0,17,5,18,3,22,-24,27,-19,31,-8,67,-8,99,9,101,-18,131,9,128,-3,140,-7,143,1,149,-7,156,-10,165,-4,172,-16,191,-12,199,-3,199,-15,212,0,216,-3,227,-20,247,-10,246,-18,252,-14,252,-37,259,-19,258,-16,258,-12,259,-8,260,-24,269,-21,272,-12,283,-37,284,-35,288,-24,287,-30,296,-24,303,-37,307,-5,310,-21,312,-40,315,-29,316,-11,326,-39,328,-33,328,-19,335,-15,337,-27,345,-27,351,-25,361,-30,362,-35,362,-35,366,-25,375,-34,377,-20,381,-18,387,-27,387,-28,392,-20,392,0,395,-12,402,-25,421,0,426,7,434,-1,438,-2,447,1,447,-17,452,-14,462,4,463,-12,466,21,476,-12,483,16,488,-9,489,8,490,6,493,-9,494,-9,497,-7,500,2,511,7,513,16,512,22,514,-16,518,8,517,0,531,5,531,21,528,17,534,18,546,0,555,19,556,25,563,5,565,1,565,22,567,0,568,7,571,3,574,5,573,-8,583,12,589,0,595,10,596];
const dots8=[-19,-562,-16,-557,-15,-545,-30,-544,-12,-480,-29,-461,-15,-427,-11,-419,-13,-404,-7,-402,-10,-394,-6,-384,-3,-346,31,-340,8,-285,21,-282,-3,-258,2,-254,11,-257,2,-241,17,-212,-31,-222,-2,-158,-49,-148,-40,-146,0,-128,-43,-118,-20,-106,-13,-95,-11,-79,-27,-55,-37,-22,-15,-22,2,-22,-37,-12,-24,-19,-18,-16,-11,-17,-4,-15,-24,-9,-18,-8,-12,-10,-7,-7,-27,-1,-21,0,-15,-1,-9,-1,-3,-3,1,1,-27,6,-12,6,-4,4,2,7,-7,10,0,12,4,15,-12,26,-13,92,12,130,-9,139,-12,150,3,177,-10,182,-18,256,-16,297,-26,305,-17,314,-17,376,-17,384,-16,392,-7,412,7,420,-3,439,-3,462,-9,464,7,512,11,511,0,519,-6,532,8,533,-4,540,29,554,-12,570,-16,578,-11,581,-24,597,0,598,-30,-8,-33,3,-21,-6,-16,4,-20,8,-9,5,-2,11];
const dots9=[-7,-596,-26,-561,-46,-469,-17,-467,-6,-450,11,-290,-2,-253,8,-221,-9,-116,-35,-33,-34,-26,-31,-21,-25,-19,-30,-12,-20,-13,-15,-12,-9,-10,-26,-8,-19,-6,-30,-3,-12,-3,-3,-1,6,-1,-25,2,-15,3,-6,3,2,3,-20,8,-11,10,-3,9,-16,16,-8,16,2,13,-9,94,-9,111,-9,129,4,129,-3,132,2,140,8,185,-20,239,-7,241,-27,266,-29,286,-42,330,-16,352,-9,366,-3,576,-22,-7,-12,-7,-20,-1,-8,-3,-10,6,-1,6];
const dots10=[-6,-578,-33,-424,-17,-276,16,-254,-13,-193,-1,-192,-35,-21,-29,-21,-20,-21,-11,-21,-31,-12,-25,-13,-16,-15,-29,-4,-22,-6,-13,-8,-7,-6,0,-3,-25,1,-17,0,-9,0,-2,1,6,0,-13,6,-4,7,2,6,-6,11,1,11,10,27,-10,53,11,132,-24,260,-34,260,-37,268,-26,337,-1,405,-6,450,17,465,-19,-9,-10,-4,-13,2,-5,4,3,-6];
const allDots=[dots1,dots2,dots3,dots4,dots5,dots6,dots7,dots8,dots9,dots10];

const W=1760,H=1300,gridTop=100;
const GRID="#7FDBFF";
const svg=d3.select("#chart").append("svg").attr("width",W).attr("height",H);
svg.append("rect").attr("width",W).attr("height",H).attr("fill","#fff");
const panel=d3.scaleBand().domain(panelLabels).range([0,W]);
const yScale=d3.scaleLinear().domain([-600,600]).range([99.5,1299.5]);
const xIn=l=>{const c=panel(l)+panel.bandwidth()/2+.5;return d3.scaleLinear().domain([-80,80]).range([c-80,c+80]);};

svg.append("g").selectAll("line").data(rowTicks).join("line")
 .attr("x1",0).attr("x2",W).attr("y1",d=>yScale(d)).attr("y2",d=>yScale(d))
 .attr("stroke",GRID).attr("stroke-width",5);

panelLabels.forEach(l=>{
 const x=xIn(l);
 svg.append("g").selectAll("line").data(columnTicks).join("line")
  .attr("x1",d=>x(d)).attr("x2",d=>x(d)).attr("y1",gridTop).attr("y2",H)
  .attr("stroke",GRID).attr("stroke-width",5);
});
panelLabels.forEach((l,i)=>{
 const x=xIn(l);
 const pts=d3.range(0,allDots[i].length,2).map(k=>[allDots[i][k],allDots[i][k+1]]);
 svg.append("g").selectAll("rect").data(pts).join("rect")
  .attr("x",d=>Math.round(x(d[0])-2.5)).attr("y",d=>Math.round(yScale(d[1])-2.5))
  .attr("width",5).attr("height",5).attr("fill","#000").attr("shape-rendering","crispEdges");
 svg.append("text").attr("transform",`translate(${x(0)+labelNudge[i]*1.12},75) scale(.9,1)`)
  .attr("text-anchor","middle")
  .attr("font-family","'Liberation Sans',sans-serif").attr("font-size",82)
  .attr("fill","#000").attr("stroke","#000").attr("stroke-width",1.2).text(l);
});
</script></body></html>
